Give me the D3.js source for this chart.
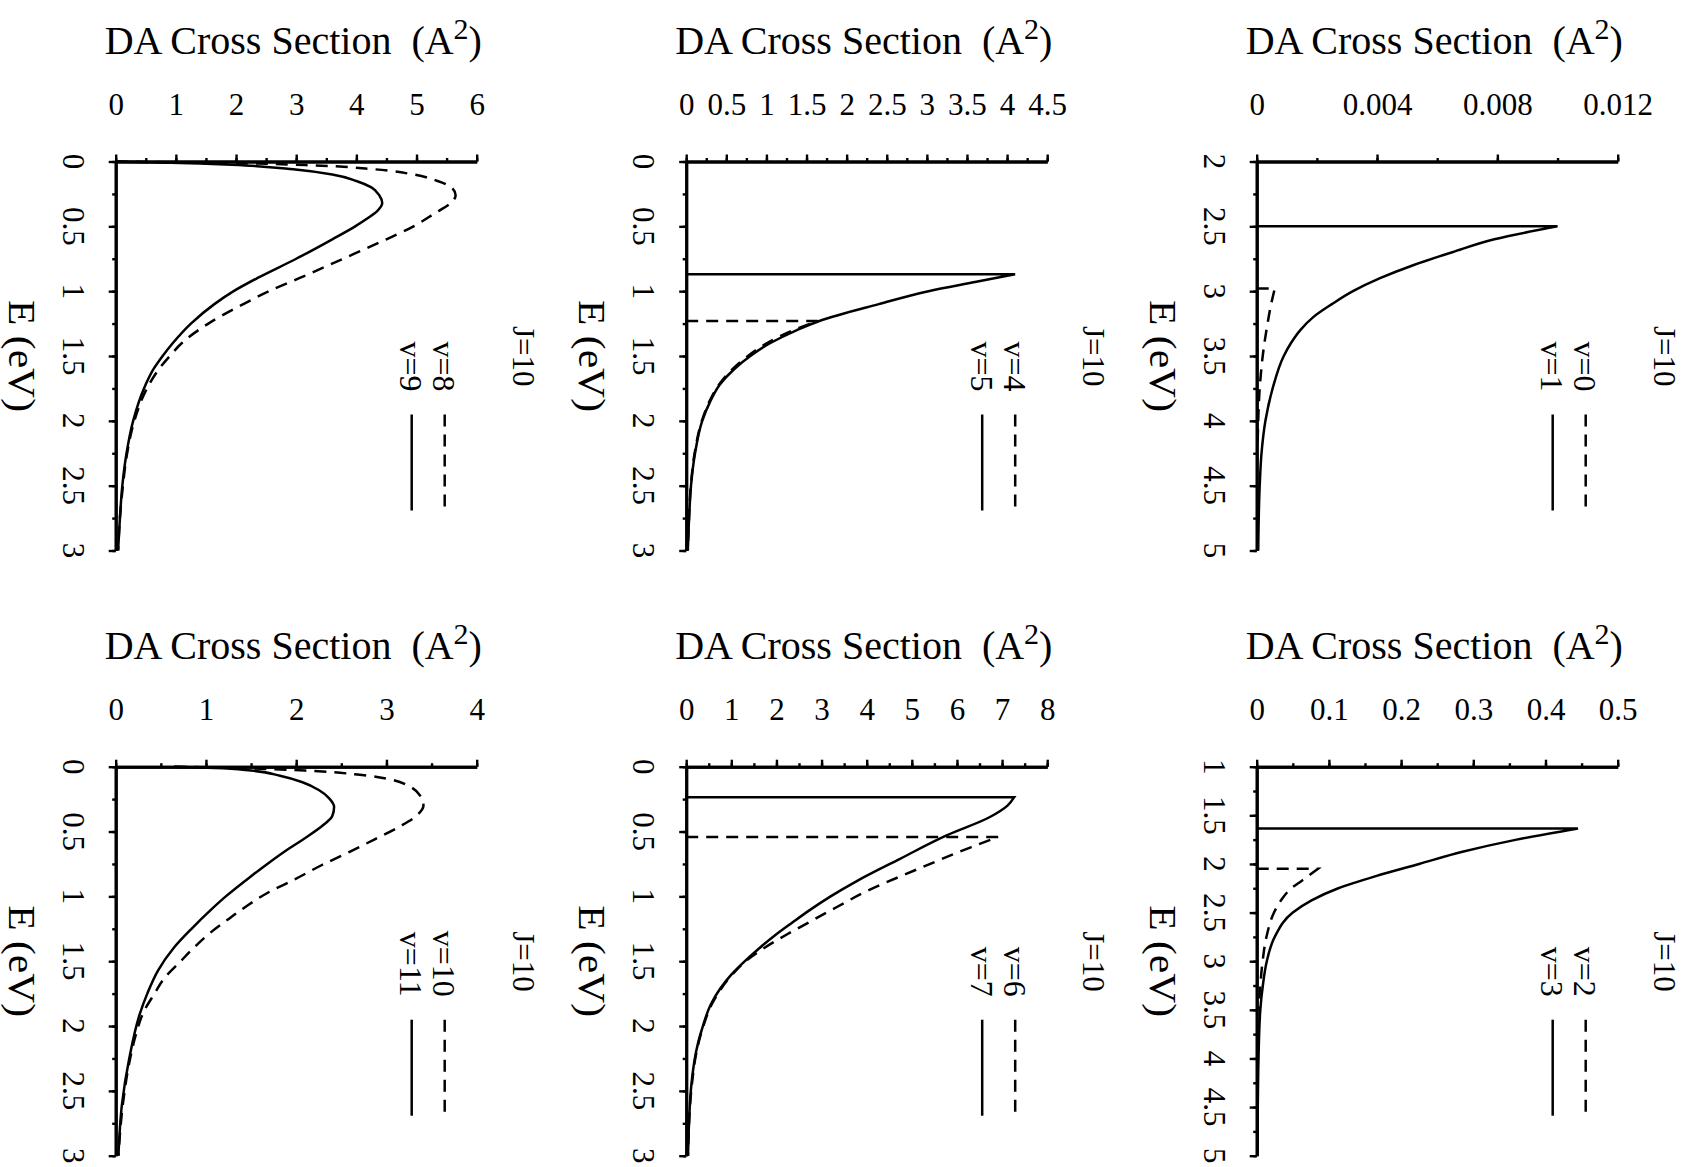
<!DOCTYPE html>
<html>
<head>
<meta charset="utf-8">
<script src="https://cdn.jsdelivr.net/npm/d3@7"></script>
<style>
  body { margin: 0; background: #fff; }
  svg text { font-family: "Liberation Serif", "Times New Roman", serif; fill: #000; }
</style>
</head>
<body>
<div class="canvaChart"></div>
<script>
// DA cross sections for J=10, each point is [E (eV), sigma (A^2)]
const v8 = [[0, 0], [0.005, 0.8], [0.015, 2.2], [0.03, 3.3], [0.06, 4.3], [0.1, 4.95], [0.15, 5.35], [0.2, 5.58], [0.26, 5.65], [0.32, 5.57], [0.4, 5.3], [0.5, 4.95], [0.6, 4.5], [0.75, 3.78], [0.9, 3.05], [1.0, 2.55], [1.1, 2.12], [1.25, 1.54], [1.4, 1.1], [1.5, 0.9], [1.6, 0.72], [1.75, 0.52], [2.0, 0.31], [2.25, 0.19], [2.5, 0.12], [2.75, 0.07], [3.0, 0.04]];
const v9 = [[0, 0], [0.005, 0.5], [0.015, 1.4], [0.03, 2.15], [0.06, 2.95], [0.1, 3.6], [0.15, 4.0], [0.2, 4.25], [0.26, 4.38], [0.32, 4.43], [0.38, 4.35], [0.44, 4.18], [0.5, 3.98], [0.6, 3.6], [0.75, 3.0], [0.9, 2.35], [1.0, 1.96], [1.1, 1.64], [1.25, 1.25], [1.4, 0.95], [1.5, 0.78], [1.6, 0.63], [1.75, 0.47], [2.0, 0.29], [2.25, 0.18], [2.5, 0.11], [2.75, 0.07], [3.0, 0.04]];

const v4 = [[1.23, 0], [1.23, 1.64], [1.3, 1.34], [1.4, 1.01], [1.5, 0.77], [1.6, 0.58], [1.72, 0.41], [1.85, 0.29], [2.0, 0.195], [2.25, 0.105], [2.5, 0.058], [2.75, 0.035], [3.0, 0.02]];
const v5 = [[0.87, 0], [0.87, 4.1], [0.93, 3.6], [1.0, 3.02], [1.1, 2.4], [1.23, 1.66], [1.3, 1.38], [1.4, 1.05], [1.5, 0.8], [1.6, 0.6], [1.72, 0.42], [1.85, 0.3], [2.0, 0.2], [2.25, 0.11], [2.5, 0.06], [2.75, 0.036], [3.0, 0.02]];

const v0 = [[2.98, 0], [2.98, 0.0006], [3.1, 0.00048], [3.25, 0.00036], [3.5, 0.0002], [3.75, 0.0001], [4.0, 0.00005], [4.2, 0.00003]];
const v1 = [[2.5, 0], [2.5, 0.01], [2.6, 0.0079], [2.7, 0.0065], [2.8, 0.0052], [2.9, 0.0041], [3.0, 0.0032], [3.1, 0.0025], [3.2, 0.00188], [3.3, 0.00145], [3.4, 0.00114], [3.5, 0.0009], [3.75, 0.00053], [4.0, 0.00029], [4.25, 0.00016], [4.5, 0.0001], [5.0, 0.00005]];

const v10 = [[0, 0.65], [0.01, 1.3], [0.03, 2.1], [0.06, 2.68], [0.1, 3.05], [0.15, 3.25], [0.22, 3.37], [0.3, 3.41], [0.38, 3.33], [0.46, 3.15], [0.56, 2.87], [0.66, 2.58], [0.76, 2.28], [0.87, 1.98], [0.97, 1.69], [1.07, 1.46], [1.17, 1.26], [1.28, 1.05], [1.4, 0.86], [1.5, 0.72], [1.63, 0.54], [1.75, 0.43], [1.89, 0.31], [2.05, 0.23], [2.25, 0.16], [2.6, 0.08], [3.0, 0.03]];
const v11 = [[0, 0.65], [0.01, 1.1], [0.03, 1.5], [0.07, 1.82], [0.12, 2.07], [0.18, 2.25], [0.24, 2.36], [0.31, 2.42], [0.38, 2.4], [0.45, 2.3], [0.55, 2.1], [0.65, 1.88], [0.75, 1.68], [0.85, 1.49], [1.0, 1.22], [1.1, 1.06], [1.25, 0.84], [1.4, 0.64], [1.57, 0.47], [1.75, 0.35], [1.9, 0.27], [2.25, 0.15], [2.6, 0.07], [3.0, 0.03]];

const v6 = [[0.542, 0], [0.542, 6.91], [0.62, 6.32], [0.79, 5.13], [0.97, 3.94], [1.08, 3.35], [1.2, 2.72], [1.3, 2.2], [1.4, 1.72], [1.5, 1.32], [1.6, 1.03], [1.83, 0.57], [2.0, 0.38], [2.12, 0.28], [2.47, 0.12], [3.0, 0.04]];
const v7 = [[0.235, 0], [0.235, 7.27], [0.3, 7.12], [0.39, 6.72], [0.53, 5.77], [0.71, 4.74], [0.88, 3.79], [1.0, 3.2], [1.11, 2.72], [1.2, 2.36], [1.3, 1.97], [1.4, 1.62], [1.5, 1.3], [1.6, 1.01], [1.83, 0.55], [2.0, 0.37], [2.12, 0.27], [2.47, 0.11], [3.0, 0.04]];

const v2 = [[2.05, 0], [2.05, 0.085], [2.17, 0.063], [2.25, 0.048], [2.37, 0.034], [2.5, 0.024], [2.75, 0.0135], [3.0, 0.0082], [3.25, 0.005], [3.5, 0.003]];
const v3 = [[1.635, 0], [1.635, 0.445], [1.75, 0.36], [1.875, 0.285], [2.0, 0.225], [2.125, 0.165], [2.25, 0.113], [2.375, 0.076], [2.5, 0.05], [2.75, 0.025], [3.0, 0.014], [3.25, 0.0085], [3.5, 0.005], [4.0, 0.0025], [4.5, 0.0015], [5.0, 0.001]];

// tick labels
const xTicks1 = [0, 1, 2, 3, 4, 5, 6];
const xTicks2 = [0, 0.5, 1, 1.5, 2, 2.5, 3, 3.5, 4, 4.5];
const xTicks3 = [0, 0.004, 0.008, 0.012];
const xTicks4 = [0, 1, 2, 3, 4];
const xTicks5 = [0, 1, 2, 3, 4, 5, 6, 7, 8];
const xTicks6 = [0, 0.1, 0.2, 0.3, 0.4, 0.5];
const eTicksA = [0, 0.5, 1, 1.5, 2, 2.5, 3];
const eTicks3 = [2, 2.5, 3, 3.5, 4, 4.5, 5];
const eTicks6 = [1, 1.5, 2, 2.5, 3, 3.5, 4, 4.5, 5];

const width = 1688;
const height = 1167;
const panelW = 361;
const panelH = 389;
const colX = [115.7, 686.2, 1256.7];
const rowY = [161.5, 766.7];

const panels = [
  { col: 0, row: 0, xTicks: xTicks1, xStep: 0.5, eTicks: eTicksA, dashed: v8, solid: v9, names: ["v=8", "v=9"] },
  { col: 1, row: 0, xTicks: xTicks2, xStep: 0.25, eTicks: eTicksA, dashed: v4, solid: v5, names: ["v=4", "v=5"] },
  { col: 2, row: 0, xTicks: xTicks3, xStep: 0.002, eTicks: eTicks3, dashed: v0, solid: v1, names: ["v=0", "v=1"] },
  { col: 0, row: 1, xTicks: xTicks4, xStep: 0.5, eTicks: eTicksA, dashed: v10, solid: v11, names: ["v=10", "v=11"] },
  { col: 1, row: 1, xTicks: xTicks5, xStep: 0.5, eTicks: eTicksA, dashed: v6, solid: v7, names: ["v=6", "v=7"] },
  { col: 2, row: 1, xTicks: xTicks6, xStep: 0.05, eTicks: eTicks6, dashed: v2, solid: v3, names: ["v=2", "v=3"] },
];

const svg = d3
  .select(".canvaChart")
  .append("svg")
  .attr("width", width)
  .attr("height", height);

// build a path: optional threshold step, then smooth decay
const curvePath = (data, x, y) => {
  const line = d3
    .line()
    .x((d) => x(d[1]))
    .y((d) => y(d[0]))
    .curve(d3.curveMonotoneY);
  if (data.length > 1 && data[0][0] === data[1][0]) {
    const rest = line(data.slice(1));
    return `M${x(data[0][1])},${y(data[0][0])}L` + rest.slice(1);
  }
  return line(data);
};

panels.forEach((p) => {
  const x0 = colX[p.col];
  const y0 = rowY[p.row];
  const g = svg.append("g").attr("transform", `translate(${x0},${y0})`);

  const xMax = p.xTicks[p.xTicks.length - 1];
  const eMin = p.eTicks[0];
  const eMax = p.eTicks[p.eTicks.length - 1];

  const x = d3.scaleLinear().domain([0, xMax]).range([0, panelW]);
  const y = d3.scaleLinear().domain([eMin, eMax]).range([0, panelH]);

  // minor ticks first
  const xMinor = d3.range(0, xMax + p.xStep / 2, p.xStep);
  const eMinor = d3.range(eMin, eMax + 0.125, 0.25);

  g.append("g")
    .call(d3.axisTop(x).tickValues(xMinor).tickSize(3.5).tickSizeOuter(0).tickFormat(""));
  g.append("g")
    .call(d3.axisLeft(y).tickValues(eMinor).tickSize(3.5).tickSizeOuter(0).tickFormat(""));

  const xAxis = g
    .append("g")
    .call(
      d3.axisTop(x)
        .tickValues(p.xTicks)
        .tickSize(7)
        .tickSizeOuter(0)
        .tickPadding(39.5)
        .tickFormat((d) => d)
    );
  xAxis.selectAll("text").style("font-size", "31px").attr("dy", 0);

  g.append("g")
    .call(d3.axisLeft(y).tickValues(p.eTicks).tickSize(7).tickSizeOuter(0).tickFormat(""));

  g.selectAll(".domain").attr("stroke-width", 3);
  g.selectAll(".tick line").attr("stroke-width", 2.4);

  // rotated E tick labels
  g.selectAll(".elabel")
    .data(p.eTicks)
    .enter()
    .append("text")
    .attr("class", "elabel")
    .attr("transform", (d) => `translate(-42,${y(d)}) rotate(90)`)
    .attr("text-anchor", "middle")
    .attr("dy", "0.35em")
    .style("font-size", "31px")
    .text((d) => d);

  // axis titles
  const title = g
    .append("text")
    .attr("x", -11)
    .attr("y", -108)
    .style("font-size", "40px")
    .style("white-space", "pre");
  title.append("tspan").text("DA Cross Section  (A");
  title.append("tspan").attr("dy", "-0.5em").style("font-size", "30px").text("2");
  title.append("tspan").attr("dy", "0.375em").text(")");

  g.append("text")
    .attr("transform", `translate(-94.5,${panelH / 2}) rotate(90)`)
    .attr("text-anchor", "middle")
    .attr("dy", "0.33em")
    .attr("textLength", 112)
    .attr("lengthAdjust", "spacingAndGlyphs")
    .style("font-size", "37px")
    .style("white-space", "pre")
    .text("E (eV)");

  // curves
  g.append("path")
    .attr("d", curvePath(p.dashed, x, y))
    .attr("fill", "none")
    .attr("stroke", "#000")
    .attr("stroke-width", 2.5)
    .attr("stroke-dasharray", "12,8");
  g.append("path")
    .attr("d", curvePath(p.solid, x, y))
    .attr("fill", "none")
    .attr("stroke", "#000")
    .attr("stroke-width", 2.5);

  // legend
  g.append("text")
    .attr("transform", `translate(408,225) rotate(90)`)
    .attr("text-anchor", "end")
    .attr("dy", "0.35em")
    .style("font-size", "31px")
    .text("J=10");

  const legendX = [329, 296];
  p.names.forEach((name, i) => {
    g.append("text")
      .attr("transform", `translate(${legendX[i]},230) rotate(90)`)
      .attr("text-anchor", "end")
      .attr("dy", "0.35em")
      .style("font-size", "32px")
      .text(name);
    g.append("line")
      .attr("x1", legendX[i])
      .attr("x2", legendX[i])
      .attr("y1", 253)
      .attr("y2", 349)
      .attr("stroke", "#000")
      .attr("stroke-width", 2.5)
      .attr("stroke-dasharray", i === 0 ? "12,8" : null);
  });
});
</script>
</body>
</html>
